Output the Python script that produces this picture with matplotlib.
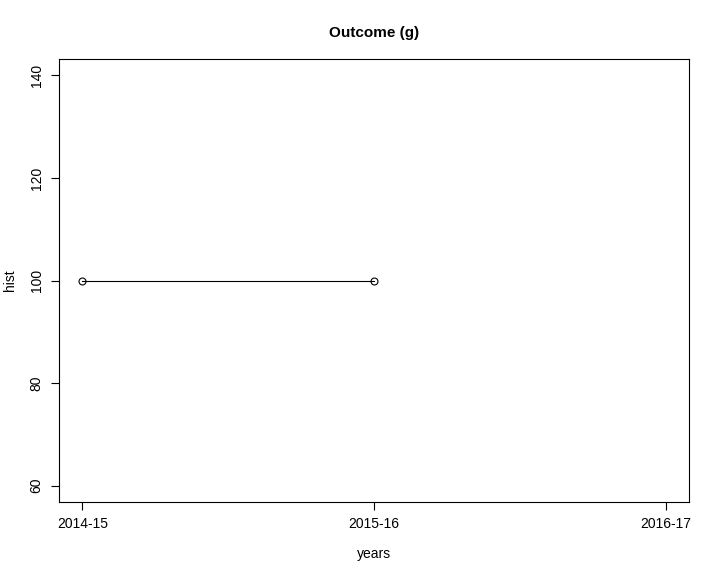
import matplotlib
matplotlib.use("Agg")
import matplotlib.pyplot as plt

years = ["2014-15", "2015-16", "2016-17"]
hist = [100, 100]
y_ticks = [60, 80, 100, 120, 140]

plt.rcParams["font.family"] = ["Liberation Sans", "DejaVu Sans"]

fig = plt.figure(figsize=(7.2, 5.76), dpi=100)
ax = fig.add_axes([59 / 720, 74 / 576, 630 / 720, 443 / 576])

x = list(range(1, len(hist) + 1))
ax.plot(x, hist, color="black", linewidth=0.8, marker="o", markersize=5,
        markerfacecolor="none", markeredgecolor="black", markeredgewidth=0.8)

ax.set_xlim(0.92, 3.08)
ax.set_ylim(56.8, 143.2)
ax.set_xticks(range(1, len(years) + 1))
ax.set_xticklabels(years, fontsize=10)
ax.set_yticks(y_ticks)
ax.set_yticklabels([str(v) for v in y_ticks], fontsize=10, rotation=90, va="center")
ax.tick_params(direction="out", length=6, width=0.8, pad=5)

for s in ax.spines.values():
    s.set_linewidth(0.8)

ax.set_title("Outcome (g)", fontsize=11, fontweight="bold", pad=16)
ax.set_xlabel("years", fontsize=10, labelpad=11)
ax.set_ylabel("hist", fontsize=10, labelpad=9)

fig.savefig("out.png", dpi=100)
